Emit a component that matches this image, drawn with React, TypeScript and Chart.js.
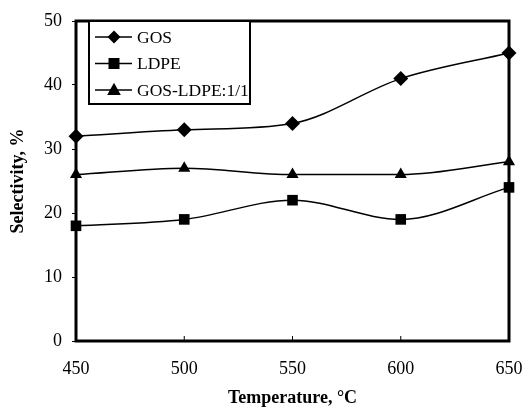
import React, { useEffect, useRef } from "react";
import { Chart, registerables } from "chart.js";

Chart.register(...registerables);

const temperatures = [450, 500, 550, 600, 650];
const gosValues = [32, 33, 34, 41, 45];
const ldpeValues = [18, 19, 22, 19, 24];
const mixValues = [26, 27, 26, 26, 28];
const seriesLabels = ["GOS", "LDPE", "GOS-LDPE:1/1"];
const xTicks = [450, 500, 550, 600, 650];
const yTicks = [0, 10, 20, 30, 40, 50];

const FONT = "'Liberation Serif', 'Times New Roman', serif";

function drawMarker(ctx: CanvasRenderingContext2D, style: string, x: number, y: number, r: number) {
  ctx.beginPath();
  if (style === "rectRot") {
    ctx.moveTo(x, y - r);
    ctx.lineTo(x + r, y);
    ctx.lineTo(x, y + r);
    ctx.lineTo(x - r, y);
  } else if (style === "rect") {
    ctx.rect(x - r, y - r, 2 * r, 2 * r);
  } else {
    ctx.moveTo(x, y - r * 1.1);
    ctx.lineTo(x + r * 1.05, y + r * 0.75);
    ctx.lineTo(x - r * 1.05, y + r * 0.75);
  }
  ctx.closePath();
  ctx.fill();
}

const framePlugin = {
  id: "frame",
  beforeDatasetsDraw(chart: any) {
    const { ctx, chartArea } = chart;
    const xs = chart.scales.x;
    ctx.save();
    ctx.strokeStyle = "#000";
    ctx.lineWidth = 1;
    for (const v of xTicks) {
      const px = xs.getPixelForValue(v);
      ctx.beginPath();
      ctx.moveTo(px, chartArea.bottom);
      ctx.lineTo(px, chartArea.bottom - 5);
      ctx.stroke();
    }
    ctx.lineWidth = 3;
    ctx.strokeRect(chartArea.left, chartArea.top, chartArea.right - chartArea.left, chartArea.bottom - chartArea.top);
    ctx.restore();
  },
  afterDraw(chart: any) {
    const { ctx, chartArea } = chart;
    const bx = chartArea.left + 13;
    const by = chartArea.top;
    const bw = 161;
    const bh = 83;
    ctx.save();
    ctx.fillStyle = "#fff";
    ctx.fillRect(bx, by, bw, bh);
    ctx.strokeStyle = "#000";
    ctx.lineWidth = 2;
    ctx.strokeRect(bx, by, bw, bh);
    ctx.font = `17.5px ${FONT}`;
    ctx.textBaseline = "middle";
    const styles = ["rectRot", "rect", "triangle"];
    chart.data.datasets.forEach((ds: any, i: number) => {
      const y = by + 16 + i * 26.5;
      ctx.lineWidth = 1.5;
      ctx.beginPath();
      ctx.moveTo(bx + 6, y);
      ctx.lineTo(bx + 43, y);
      ctx.stroke();
      ctx.fillStyle = "#000";
      drawMarker(ctx, styles[i], bx + 25, y, styles[i] === "rect" ? 5.5 : 6.5);
      ctx.fillText(ds.label, bx + 48, y + 1);
    });
    ctx.restore();
  },
};

export default function App() {
  const ref = useRef<HTMLCanvasElement | null>(null);
  useEffect(() => {
    document.body.style.margin = "0";
    const mk = (label: string, data: number[], ps: string, r: number) => ({
      label,
      data: data.map((v, i) => ({ x: temperatures[i], y: v })),
      borderColor: "#000",
      backgroundColor: "#000",
      borderWidth: 1.5,
      pointStyle: ps,
      pointRadius: r,
      pointBorderWidth: 0,
      tension: 0.4,
      cubicInterpolationMode: "monotone",
      clip: false,
    });
    const chart = new Chart(ref.current as HTMLCanvasElement, {
      type: "line",
      data: {
        datasets: [
          mk(seriesLabels[0], gosValues, "rectRot", 7.5),
          mk(seriesLabels[1], ldpeValues, "rect", 7.5),
          mk(seriesLabels[2], mixValues, "triangle", 7),
        ] as any,
      },
      options: {
        animation: false,
        responsive: false,
        devicePixelRatio: 1,
        layout: { padding: { left: 0, top: 21, right: 17, bottom: 0 } },
        plugins: { legend: { display: false }, tooltip: { enabled: false } },
        scales: {
          x: {
            type: "linear",
            min: 450,
            max: 650,
            afterBuildTicks: (s: any) => {
              s.ticks = xTicks.map((v) => ({ value: v }));
            },
            afterFit: (s: any) => {
              s.height = 68;
              s.paddingLeft = 0;
              s.paddingRight = 0;
            },
            grid: { display: false, drawTicks: false },
            border: { display: false },
            ticks: { color: "#000", font: { family: FONT, size: 18 }, padding: 17, maxRotation: 0 },
            title: {
              display: true,
              text: "Temperature, °C",
              color: "#000",
              font: { family: FONT, size: 18, weight: "bold" },
              padding: { top: 0, bottom: 0 },
            },
          },
          y: {
            min: 0,
            max: 50,
            afterBuildTicks: (s: any) => {
              s.ticks = yTicks.map((v) => ({ value: v }));
            },
            afterFit: (s: any) => {
              s.width = 76;
              s.paddingTop = 0;
              s.paddingBottom = 0;
            },
            grid: { drawOnChartArea: false, drawTicks: true, tickLength: 4, color: "#000" },
            border: { display: false },
            ticks: { color: "#000", font: { family: FONT, size: 18 }, padding: 10 },
            title: {
              display: true,
              text: "Selectivity, %",
              color: "#000",
              font: { family: FONT, size: 18, weight: "bold" },
              padding: { top: 8, bottom: 0 },
            },
          },
        },
      } as any,
      plugins: [framePlugin],
    });
    return () => chart.destroy();
  }, []);
  return (
    <div style={{ position: "absolute", left: 0, top: 0, width: 526, height: 409, background: "#fff" }}>
      <canvas ref={ref} width={526} height={409} />
    </div>
  );
}
